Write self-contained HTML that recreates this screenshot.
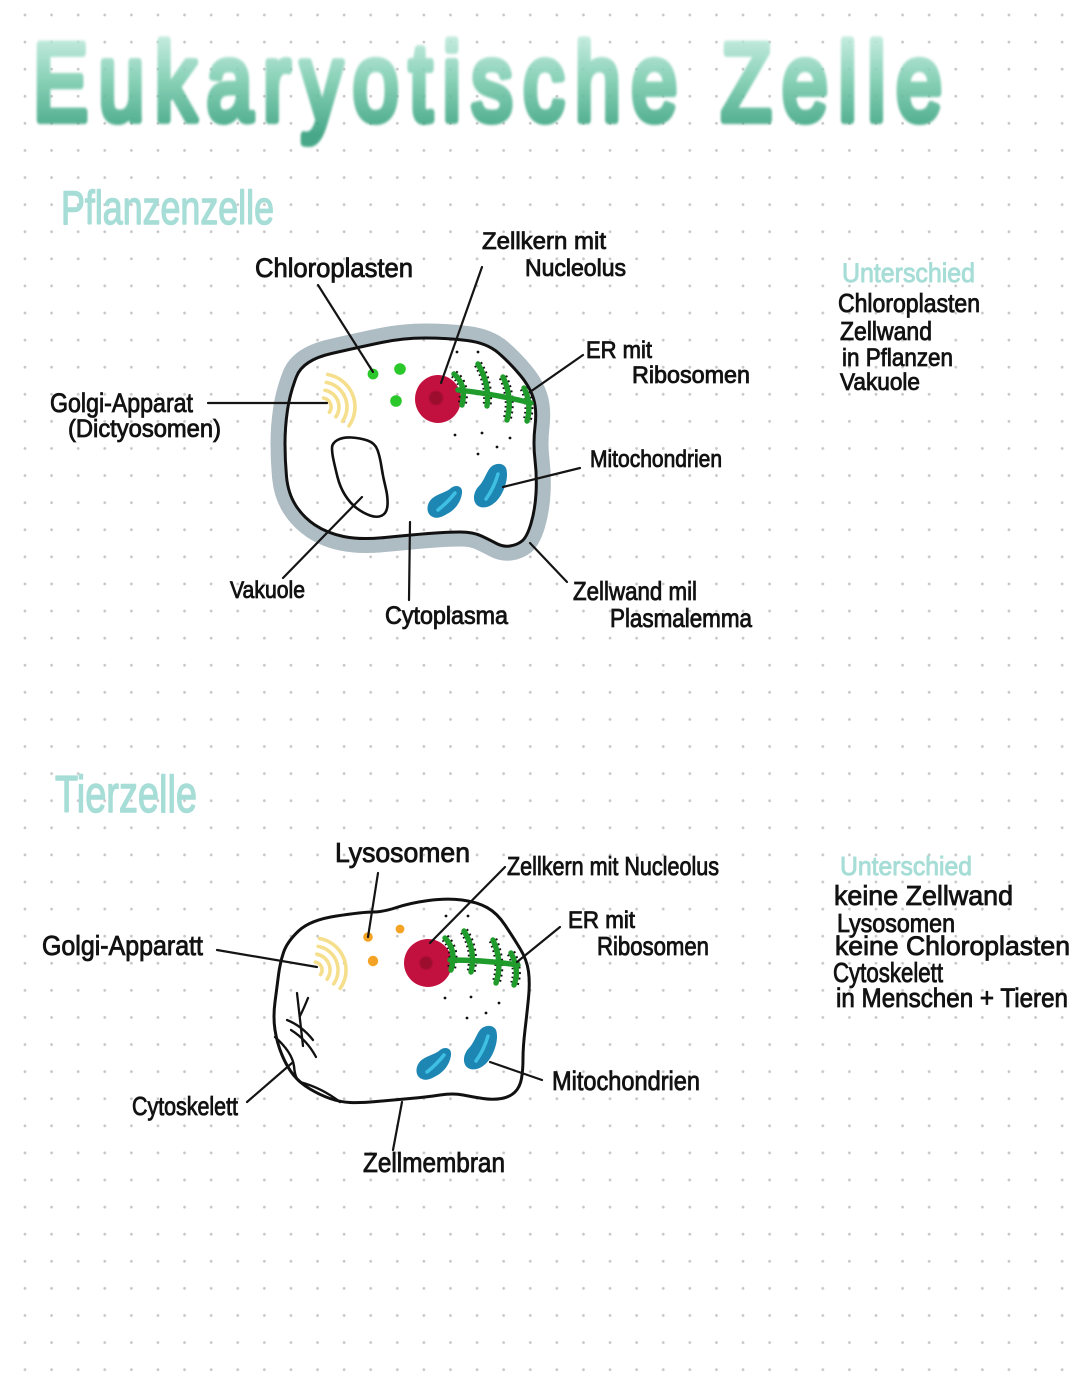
<!DOCTYPE html>
<html>
<head>
<meta charset="utf-8">
<style>
  html,body{margin:0;padding:0;}
  body{
    width:1080px;height:1394px;overflow:hidden;position:relative;
    background-color:#ffffff;
    background-image:radial-gradient(circle at center,#c6c6c6 0,#c6c6c6 1.1px,rgba(255,255,255,0) 1.7px);
    background-size:26.6px 27.1px;
    background-position:11.7px 1.45px;
  }
  svg{position:absolute;left:0;top:0;}
  .t{font-family:"Liberation Sans",sans-serif;fill:#121212;stroke:#121212;stroke-width:0.85;}
  .h{font-family:"Liberation Sans",sans-serif;fill:#a6ddd6;stroke:#a6ddd6;stroke-width:1.4;stroke-linejoin:round;}
  .ln{stroke:#141414;stroke-width:2.2;fill:none;stroke-linecap:round;}
</style>
</head>
<body>
<svg width="1080" height="1394" viewBox="0 0 1080 1394" xmlns="http://www.w3.org/2000/svg">
  <defs>
    <linearGradient id="tg" x1="0" y1="35" x2="0" y2="135" gradientUnits="userSpaceOnUse">
      <stop offset="0" stop-color="#bfeadd"/>
      <stop offset="0.45" stop-color="#79cbae"/>
      <stop offset="1" stop-color="#2e9c78"/>
    </linearGradient>
    <filter id="blur" x="-5%" y="-20%" width="110%" height="140%">
      <feGaussianBlur stdDeviation="1.4"/>
    </filter>
    <filter id="sb"><feGaussianBlur stdDeviation="0.6"/></filter>
    <mask id="pm">
      <rect x="0" y="0" width="1080" height="1394" fill="white"/>
      <path fill="black" d="M331.5,353.5 Q360,347 381.5,342.5 Q403,338 425,338 Q447,338 467,340.5 Q487,343 498.5,353 Q510,363 520,375 Q530,387 533.5,398.5 Q537,410 535,426.5 Q533,443 535,460 Q537,477 536,493.5 Q535,510 531,523.5 Q527,537 522,541 Q517,545 510,546 Q503,547 496.5,543.5 Q490,540 481.5,536 Q473,532 460,532 Q447,532 428.5,533.5 Q410,535 385,537.5 Q360,540 343.5,536.5 Q327,533 315,525 Q303,517 295.5,505 Q288,493 286.5,476.5 Q285,460 285,443.5 Q285,427 287.5,410 Q290,393 296.5,376.5 Q303,360 331.5,353.5 Z"/>
    </mask>
  </defs>

  <!-- Title -->
  <g transform="scale(0.75,1)" filter="url(#blur)" opacity="0.88">
    <text x="44" y="120" font-family="Liberation Sans, sans-serif" font-size="110" fill="url(#tg)" stroke="url(#tg)" stroke-width="8" stroke-linejoin="round" stroke-linecap="round" textLength="1212" lengthAdjust="spacing">Eukaryotische Zelle</text>
  </g>

  <!-- Section headings -->
  <text class="h" x="61" y="224" font-size="47" textLength="213" lengthAdjust="spacingAndGlyphs">Pflanzenzelle</text>
  <text class="h" x="55" y="812" font-size="52" textLength="142" lengthAdjust="spacingAndGlyphs">Tierzelle</text>

  <!-- ============ PLANT CELL ============ -->
  <path mask="url(#pm)" fill="none" stroke="#aebcc3" stroke-width="29" stroke-linejoin="round" d="M331.5,353.5 Q360,347 381.5,342.5 Q403,338 425,338 Q447,338 467,340.5 Q487,343 498.5,353 Q510,363 520,375 Q530,387 533.5,398.5 Q537,410 535,426.5 Q533,443 535,460 Q537,477 536,493.5 Q535,510 531,523.5 Q527,537 522,541 Q517,545 510,546 Q503,547 496.5,543.5 Q490,540 481.5,536 Q473,532 460,532 Q447,532 428.5,533.5 Q410,535 385,537.5 Q360,540 343.5,536.5 Q327,533 315,525 Q303,517 295.5,505 Q288,493 286.5,476.5 Q285,460 285,443.5 Q285,427 287.5,410 Q290,393 296.5,376.5 Q303,360 331.5,353.5 Z"/>
  <path fill="none" stroke="#111" stroke-width="3" stroke-linejoin="round" d="M331.5,353.5 Q360,347 381.5,342.5 Q403,338 425,338 Q447,338 467,340.5 Q487,343 498.5,353 Q510,363 520,375 Q530,387 533.5,398.5 Q537,410 535,426.5 Q533,443 535,460 Q537,477 536,493.5 Q535,510 531,523.5 Q527,537 522,541 Q517,545 510,546 Q503,547 496.5,543.5 Q490,540 481.5,536 Q473,532 460,532 Q447,532 428.5,533.5 Q410,535 385,537.5 Q360,540 343.5,536.5 Q327,533 315,525 Q303,517 295.5,505 Q288,493 286.5,476.5 Q285,460 285,443.5 Q285,427 287.5,410 Q290,393 296.5,376.5 Q303,360 331.5,353.5 Z"/>

  <!-- vacuole -->
  <path fill="none" stroke="#111" stroke-width="2.6" d="M337.5,440 Q343,437 351.5,437.5 Q360,438 367.5,440.5 Q375,443 377.5,450 Q380,457 381.5,467 Q383,477 385.5,487 Q388,497 387.5,505 Q387,513 382,515.5 Q377,518 370,515.5 Q363,513 356.5,508 Q350,503 345,495 Q340,487 337.5,477 Q335,467 333.5,460 Q332,453 332,448 Q332,443 337.5,440 Z"/>

  <!-- golgi plant -->
  <g fill="none" stroke="#f6df8c" stroke-width="3.6" stroke-linecap="round">
    <path d="M323.6,398.1 A9,9 0 0 1 329.4,412.2"/>
    <path d="M325,390.3 A17,17 0 0 1 335.9,416.8"/>
    <path d="M326.3,382.4 A25,25 0 0 1 342.5,421.3"/>
    <path d="M327.7,374.5 A33,33 0 0 1 349,425.9"/>
  </g>

  <!-- chloroplasts -->
  <circle cx="373" cy="374" r="5.4" fill="#2bc82b"/>
  <circle cx="400" cy="369" r="5.8" fill="#2bc82b"/>
  <circle cx="396" cy="401" r="5.8" fill="#2bc82b"/>

  <!-- nucleus plant -->
  <ellipse cx="438" cy="399" rx="23" ry="24" fill="#c3113f"/>
  <circle cx="436" cy="398" r="7" fill="#9c0c2e" filter="url(#sb)"/>

  <!-- ER plant -->
  <g fill="none" stroke-linecap="butt">
    <g stroke="#111" stroke-width="9" stroke-dasharray="1.8 3.2">
      <path d="M454,374 Q467,385 462,405"/>
      <path d="M478,364 Q490,384 487,406"/>
      <path d="M503,377 Q513,398 507,420"/>
      <path d="M524,388 Q532,404 527,421"/>
    </g>
    <g stroke="#1f9c2b" stroke-width="5.4" stroke-linecap="round">
      <path d="M458,390 Q495,394 531,403"/>
      <path d="M454,374 Q467,385 462,405"/>
      <path d="M478,364 Q490,384 487,406"/>
      <path d="M503,377 Q513,398 507,420"/>
      <path d="M524,388 Q532,404 527,421"/>
    </g>
  </g>
  <g fill="#111">
    <circle cx="457" cy="352" r="1.4"/><circle cx="478" cy="352" r="1.4"/>
    <circle cx="455" cy="435" r="1.4"/><circle cx="482" cy="433" r="1.4"/>
    <circle cx="510" cy="438" r="1.4"/><circle cx="497" cy="447" r="1.4"/>
    <circle cx="478" cy="454" r="1.4"/>
  </g>

  <!-- mitochondria plant -->
  <path fill="#1d86b3" d="M433,517 C425,514 426,502 434,497 C440,493 447,492 451,488 C456,484 463,486 462,493 C461,502 455,510 447,514 C442,517 437,519 433,517 Z"/>
  <path fill="none" stroke="#3fc0e3" stroke-width="3.5" stroke-linecap="round" d="M438,510 Q448,502 455,493"/>
  <path fill="#1d86b3" d="M478,506 C472,502 473,492 479,486 C484,481 486,473 490,468 C494,463 503,462 506,468 C509,476 505,490 499,498 C494,505 485,510 478,506 Z"/>
  <path fill="none" stroke="#3fc0e3" stroke-width="3.5" stroke-linecap="round" d="M486,499 Q494,488 498,474"/>

  <!-- plant label lines -->
  <line class="ln" x1="318" y1="285" x2="373" y2="372"/>
  <line class="ln" x1="482" y1="267" x2="441" y2="383"/>
  <line class="ln" x1="583" y1="355" x2="530" y2="392"/>
  <line class="ln" x1="208" y1="403" x2="327" y2="403"/>
  <line class="ln" x1="580" y1="468" x2="503" y2="487"/>
  <line class="ln" x1="283" y1="578" x2="362" y2="497"/>
  <line class="ln" x1="410" y1="522" x2="409" y2="600"/>
  <line class="ln" x1="530" y1="543" x2="567" y2="582"/>

  <!-- plant labels -->
  <text class="t" x="255" y="277" font-size="27" textLength="158" lengthAdjust="spacingAndGlyphs">Chloroplasten</text>
  <text class="t" x="482" y="249" font-size="24" textLength="124" lengthAdjust="spacingAndGlyphs">Zellkern mit</text>
  <text class="t" x="525" y="276" font-size="24" textLength="101" lengthAdjust="spacingAndGlyphs">Nucleolus</text>
  <text class="t" x="586" y="358" font-size="24" textLength="66" lengthAdjust="spacingAndGlyphs">ER mit</text>
  <text class="t" x="632" y="383" font-size="24" textLength="118" lengthAdjust="spacingAndGlyphs">Ribosomen</text>
  <text class="t" x="590" y="467" font-size="24" textLength="132" lengthAdjust="spacingAndGlyphs">Mitochondrien</text>
  <text class="t" x="50" y="412" font-size="27" textLength="143" lengthAdjust="spacingAndGlyphs">Golgi-Apparat</text>
  <text class="t" x="68" y="437" font-size="25" textLength="153" lengthAdjust="spacingAndGlyphs">(Dictyosomen)</text>
  <text class="t" x="230" y="598" font-size="24" textLength="75" lengthAdjust="spacingAndGlyphs">Vakuole</text>
  <text class="t" x="385" y="624" font-size="25" textLength="123" lengthAdjust="spacingAndGlyphs">Cytoplasma</text>
  <text class="t" x="573" y="600" font-size="26" textLength="124" lengthAdjust="spacingAndGlyphs">Zellwand mil</text>
  <text class="t" x="610" y="627" font-size="26" textLength="142" lengthAdjust="spacingAndGlyphs">Plasmalemma</text>

  <!-- plant differences -->
  <text class="h" x="842" y="282" font-size="27" textLength="133" lengthAdjust="spacingAndGlyphs" style="stroke-width:0.9">Unterschied</text>
  <text class="t" x="838" y="312" font-size="26" textLength="142" lengthAdjust="spacingAndGlyphs">Chloroplasten</text>
  <text class="t" x="840" y="340" font-size="26" textLength="92" lengthAdjust="spacingAndGlyphs">Zellwand</text>
  <text class="t" x="842" y="366" font-size="25" textLength="111" lengthAdjust="spacingAndGlyphs">in Pflanzen</text>
  <text class="t" x="840" y="390" font-size="24" textLength="80" lengthAdjust="spacingAndGlyphs">Vakuole</text>

  <!-- ============ ANIMAL CELL ============ -->
  <path fill="none" stroke="#111" stroke-width="3" stroke-linejoin="round" d="M298.5,931 Q310,920 336.5,916 Q363,912 373,912 Q383,912 396.5,907.5 Q410,903 428.5,900.5 Q447,898 462,900 Q477,902 487,907.5 Q497,913 505,925 Q513,937 520,948.5 Q527,960 528.5,971.5 Q530,983 528.5,998 Q527,1013 525,1030 Q523,1047 523,1058.5 Q523,1070 521.5,1078.5 Q520,1087 515,1092 Q510,1097 501.5,1098.5 Q493,1100 483,1098.5 Q473,1097 463,1095 Q453,1093 440,1095 Q427,1097 410,1098.5 Q393,1100 376.5,1101.5 Q360,1103 350,1102.5 Q340,1102 330,1098.5 Q320,1095 310,1089 Q300,1083 293.5,1075 Q287,1067 282,1055 Q277,1043 275,1030 Q273,1017 275,1002 Q277,987 278.5,975 Q280,963 283.5,952.5 Q287,942 298.5,931 Z"/>
  <path fill="none" stroke="#111" stroke-width="2.4" stroke-linecap="round" d="M275,1037 Q292,1052 294,1066 Q295,1079 300,1082 Q322,1088 340,1102"/>

  <!-- cytoskeleton -->
  <g fill="none" stroke="#111" stroke-width="2.3" stroke-linecap="round">
    <path d="M297,993 Q300,1020 303,1046"/>
    <path d="M308,998 Q304,1008 300,1016"/>
    <path d="M287,1020 Q302,1026 313,1040"/>
    <path d="M291,1030 Q307,1040 316,1057"/>
  </g>

  <!-- golgi animal -->
  <g fill="none" stroke="#f6df8c" stroke-width="3.6" stroke-linecap="round">
    <path d="M315.4,962.1 A8,8 0 0 1 320.6,974.6"/>
    <path d="M316.8,954.2 A16,16 0 0 1 327.1,979.2"/>
    <path d="M318.2,946.4 A24,24 0 0 1 333.7,983.8"/>
    <path d="M319.6,938.5 A32,32 0 0 1 340.2,988.4"/>
  </g>

  <!-- lysosomes -->
  <circle cx="368" cy="937" r="4.8" fill="#f4a324"/>
  <circle cx="400" cy="929" r="4.4" fill="#f4a324"/>
  <circle cx="373" cy="961" r="5.2" fill="#f4a324"/>

  <!-- nucleus animal -->
  <circle cx="428" cy="963" r="24" fill="#c3113f"/>
  <circle cx="426" cy="963" r="6.5" fill="#9c0c2e" filter="url(#sb)"/>

  <!-- ER animal -->
  <g fill="none">
    <g stroke="#111" stroke-width="9" stroke-dasharray="1.8 3.2">
      <path d="M445,938 Q457,950 451,970"/>
      <path d="M464,931 Q476,950 471,972"/>
      <path d="M493,940 Q503,962 496,983"/>
      <path d="M511,953 Q520,970 514,985"/>
    </g>
    <g stroke="#1f9c2b" stroke-width="5.4" stroke-linecap="round">
      <path d="M450,960 Q485,960 518,965"/>
      <path d="M445,938 Q457,950 451,970"/>
      <path d="M464,931 Q476,950 471,972"/>
      <path d="M493,940 Q503,962 496,983"/>
      <path d="M511,953 Q520,970 514,985"/>
    </g>
  </g>
  <g fill="#111">
    <circle cx="446" cy="916" r="1.4"/><circle cx="468" cy="916" r="1.4"/>
    <circle cx="445" cy="998" r="1.4"/><circle cx="471" cy="997" r="1.4"/>
    <circle cx="499" cy="1003" r="1.4"/><circle cx="486" cy="1013" r="1.4"/>
    <circle cx="467" cy="1018" r="1.4"/>
  </g>

  <!-- mitochondria animal -->
  <g transform="translate(-11,562)">
    <path fill="#1d86b3" d="M433,517 C425,514 426,502 434,497 C440,493 447,492 451,488 C456,484 463,486 462,493 C461,502 455,510 447,514 C442,517 437,519 433,517 Z"/>
    <path fill="none" stroke="#3fc0e3" stroke-width="3.5" stroke-linecap="round" d="M438,510 Q448,502 455,493"/>
  </g>
  <g transform="translate(-10,562)">
    <path fill="#1d86b3" d="M478,506 C472,502 473,492 479,486 C484,481 486,473 490,468 C494,463 503,462 506,468 C509,476 505,490 499,498 C494,505 485,510 478,506 Z"/>
    <path fill="none" stroke="#3fc0e3" stroke-width="3.5" stroke-linecap="round" d="M486,499 Q494,488 498,474"/>
  </g>

  <!-- animal label lines -->
  <line class="ln" x1="378" y1="873" x2="368" y2="937"/>
  <line class="ln" x1="505" y1="867" x2="430" y2="943"/>
  <line class="ln" x1="560" y1="927" x2="517" y2="962"/>
  <line class="ln" x1="490" y1="1062" x2="542" y2="1080"/>
  <line class="ln" x1="402" y1="1102" x2="393" y2="1150"/>
  <line class="ln" x1="217" y1="950" x2="317" y2="967"/>
  <line class="ln" x1="247" y1="1102" x2="292" y2="1063"/>

  <!-- animal labels -->
  <text class="t" x="335" y="862" font-size="28" textLength="135" lengthAdjust="spacingAndGlyphs">Lysosomen</text>
  <text class="t" x="507" y="875" font-size="26" textLength="212" lengthAdjust="spacingAndGlyphs">Zellkern mit Nucleolus</text>
  <text class="t" x="568" y="928" font-size="24" textLength="67" lengthAdjust="spacingAndGlyphs">ER mit</text>
  <text class="t" x="597" y="955" font-size="26" textLength="112" lengthAdjust="spacingAndGlyphs">Ribosomen</text>
  <text class="t" x="552" y="1090" font-size="27" textLength="148" lengthAdjust="spacingAndGlyphs">Mitochondrien</text>
  <text class="t" x="363" y="1172" font-size="28" textLength="142" lengthAdjust="spacingAndGlyphs">Zellmembran</text>
  <text class="t" x="42" y="955" font-size="28" textLength="161" lengthAdjust="spacingAndGlyphs">Golgi-Apparatt</text>
  <text class="t" x="132" y="1115" font-size="26" textLength="106" lengthAdjust="spacingAndGlyphs">Cytoskelett</text>

  <!-- animal differences -->
  <text class="h" x="840" y="875" font-size="26" textLength="132" lengthAdjust="spacingAndGlyphs" style="stroke-width:0.9">Unterschied</text>
  <text class="t" x="834" y="905" font-size="28" textLength="179" lengthAdjust="spacingAndGlyphs">keine Zellwand</text>
  <text class="t" x="837" y="932" font-size="26" textLength="118" lengthAdjust="spacingAndGlyphs">Lysosomen</text>
  <text class="t" x="835" y="955" font-size="27" textLength="235" lengthAdjust="spacingAndGlyphs">keine Chloroplasten</text>
  <text class="t" x="833" y="982" font-size="28" textLength="110" lengthAdjust="spacingAndGlyphs">Cytoskelett</text>
  <text class="t" x="836" y="1007" font-size="27" textLength="232" lengthAdjust="spacingAndGlyphs">in Menschen + Tieren</text>
</svg>
</body>
</html>
